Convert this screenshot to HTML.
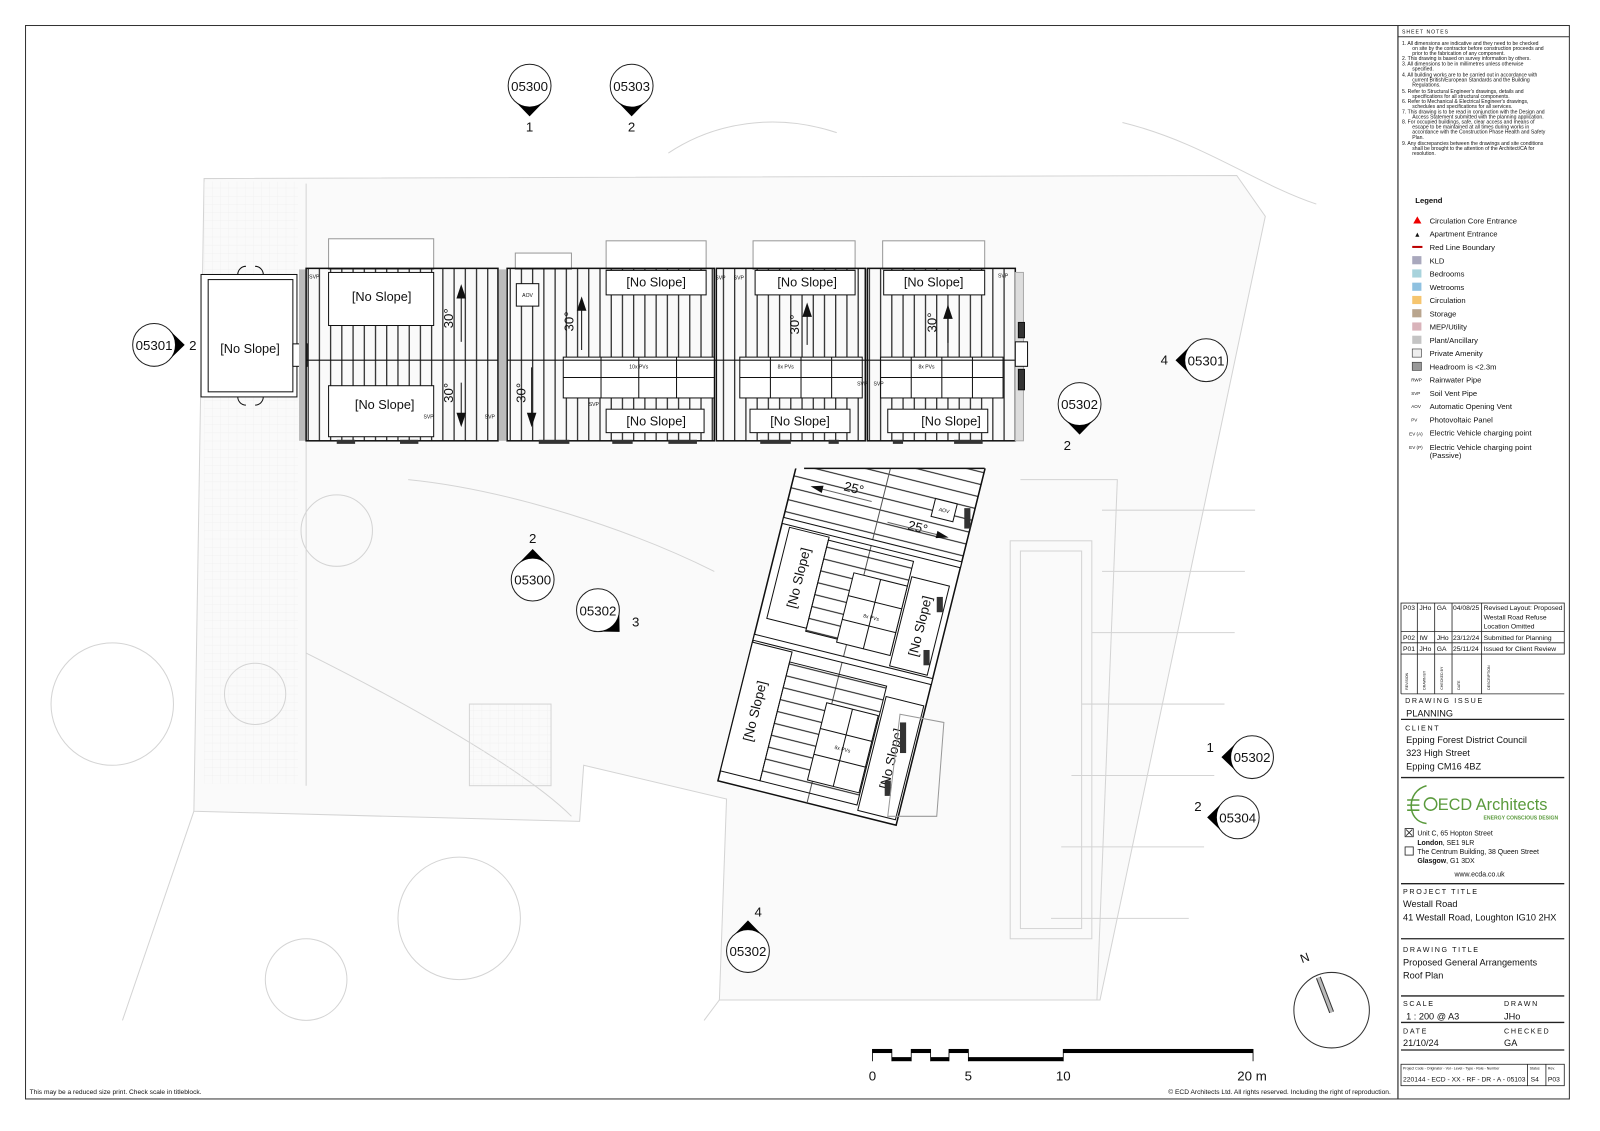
<!DOCTYPE html>
<html><head><meta charset="utf-8"><style>
html,body{margin:0;padding:0;background:#fff}
svg{display:block}
text{font-family:"Liberation Sans",sans-serif}
</style></head><body>
<svg width="1600" height="1131" viewBox="0 0 1568 1108.4" xmlns="http://www.w3.org/2000/svg">
<defs>
<pattern id="vs" width="11" height="10" patternUnits="userSpaceOnUse"><line x1="5" y1="0" x2="5" y2="10" stroke="#111" stroke-width="1.1"/></pattern>
<pattern id="hs" width="10" height="12" patternUnits="userSpaceOnUse"><line x1="0" y1="6" x2="10" y2="6" stroke="#111" stroke-width="1"/></pattern>
<pattern id="grid" width="8" height="8" patternUnits="userSpaceOnUse"><path d="M0 0H8M0 0V8" stroke="#eee" stroke-width="0.6"/></pattern>
<clipPath id="cb"><polygon points="760,459 975,459 975,840 680,840"/></clipPath>
<g id="mk"><circle r="21" fill="#fff" stroke="#222" stroke-width="1"/><path d="M-15,14.5 L0,30 L15,14.5 A21,21 0 0 1 -15,14.5 Z" fill="#000"/></g>
</defs>
<rect width="1568" height="1108.4" fill="#fff"/>
<rect x="25" y="25" width="1513" height="1052" fill="none" stroke="#333" stroke-width="1"/>
<line x1="1370" y1="25" x2="1370" y2="1077" stroke="#333" stroke-width="1.2"/>

<g fill="none" stroke="#d4d4d4" stroke-width="1">
<polygon points="200,175 1212,172 1240,212 1078,980 705,980 712,783 572,750 568,805 190,795" fill="#fafafa"/>
<rect x="200" y="178" width="92" height="590" fill="url(#grid)" stroke="none"/>
<path d="M655,150 C700,120 760,110 820,130 M1100,120 C1180,140 1230,180 1290,200"/>
<circle cx="110" cy="690" r="60"/><circle cx="330" cy="520" r="35"/><circle cx="250" cy="680" r="30"/>
<circle cx="450" cy="900" r="60"/><circle cx="300" cy="960" r="40"/>
<rect x="990" y="530" width="80" height="390"/><rect x="1000" y="540" width="60" height="370"/>
<path d="M1080,500 L1230,500 M1080,560 L1220,560 M1070,620 L1210,620 M1060,690 L1200,690 M1050,760 L1190,760 M1040,830 L1180,830 M1030,900 L1165,900"/>
<path d="M1000,470 L1095,470 L1075,980"/>
<path d="M300,180 L300,770 M190,795 L120,1000 M705,980 L690,1000"/>
<path d="M400,470 C500,480 620,520 700,560 M300,640 C420,700 520,760 560,800"/>
<rect x="460" y="690" width="80" height="80" fill="url(#grid)"/>
</g>

<g stroke="#111" stroke-width="1">
<rect x="322" y="234" width="103" height="30" fill="#fff" stroke="#999"/>
<rect x="594" y="236" width="98" height="28" fill="#fff" stroke="#999"/>
<rect x="738" y="236" width="100" height="28" fill="#fff" stroke="#999"/>
<rect x="865" y="236" width="100" height="28" fill="#fff" stroke="#999"/>
<rect x="505" y="248" width="55" height="16" fill="#fff" stroke="#999"/>
<rect x="197" y="269" width="94" height="120" fill="#fff"/>
<rect x="204" y="274" width="83" height="110" fill="#fff"/>
<path d="M233,269 a8,8 0 0 1 8,-8 M258,269 a8,8 0 0 0 -8,-8 M233,389 a8,8 0 0 0 8,8 M258,389 a8,8 0 0 1 -8,8" fill="none"/>
<rect x="287" y="337" width="14" height="22" fill="#fff"/>
<rect x="293" y="264" width="7" height="168" fill="#bbb" stroke="none"/>
<rect x="300" y="263" width="188" height="169" fill="url(#vs)" stroke-width="1.5"/>
<rect x="322" y="267" width="103" height="52" fill="#fff"/>
<rect x="322" y="378" width="103" height="50" fill="#fff"/>
<line x1="300" y1="353" x2="488" y2="353"/>
<rect x="497" y="263" width="203" height="169" fill="url(#vs)" stroke-width="1.5"/>
<rect x="489" y="264" width="7" height="168" fill="#bbb" stroke="none"/>
<rect x="506" y="278" width="22" height="22" fill="#fff"/>
<rect x="594" y="265" width="98" height="24" fill="#fff"/>
<rect x="594" y="401" width="96" height="23" fill="#fff"/>
<rect x="552" y="350" width="148" height="40" fill="#fff"/>
<path d="M589,350V390M626,350V390M663,350V390M552,370H700"/>
<rect x="702" y="263" width="146" height="169" fill="url(#vs)" stroke-width="1.5"/>
<rect x="740" y="265" width="98" height="24" fill="#fff"/>
<rect x="735" y="401" width="98" height="23" fill="#fff"/>
<rect x="725" y="350" width="120" height="40" fill="#fff"/>
<path d="M755,350V390M785,350V390M815,350V390M725,370H845"/>
<rect x="850" y="263" width="145" height="169" fill="url(#vs)" stroke-width="1.5"/>
<rect x="866" y="265" width="99" height="24" fill="#fff"/>
<rect x="870" y="401" width="98" height="23" fill="#fff"/>
<rect x="863" y="350" width="120" height="40" fill="#fff"/>
<path d="M893,350V390M923,350V390M953,350V390M863,370H983"/>
<line x1="497" y1="353" x2="995" y2="353"/>
<rect x="995" y="267" width="8" height="165" fill="#ddd" stroke="#aaa"/>
<rect x="995" y="335" width="12" height="24" fill="#fff"/>
<rect x="998" y="316" width="6" height="15" fill="#333"/><rect x="998" y="362" width="6" height="20" fill="#333"/>
<g fill="#333" stroke="none">
<rect x="330" y="431" width="18" height="4"/><rect x="392" y="431" width="18" height="4"/><rect x="528" y="431" width="30" height="4"/>
<rect x="600" y="431" width="20" height="4"/><rect x="655" y="431" width="28" height="4"/><rect x="745" y="431" width="30" height="4"/>
<rect x="812" y="431" width="10" height="4"/><rect x="875" y="431" width="10" height="4"/><rect x="935" y="431" width="28" height="4"/>
</g>
</g>
<g stroke="#111" stroke-width="1" fill="#111">
<line x1="452" y1="290" x2="452" y2="335"/><path d="M448,292 L452,280 L456,292Z"/>
<line x1="452" y1="375" x2="452" y2="415"/><path d="M448,405 L452,417 L456,405Z"/>
<line x1="570" y1="300" x2="570" y2="343"/><path d="M566,304 L570,292 L574,304Z"/>
<line x1="521" y1="360" x2="521" y2="415"/><path d="M517,405 L521,417 L525,405Z"/>
<line x1="791" y1="300" x2="791" y2="338"/><path d="M787,310 L791,298 L795,310Z"/>
<line x1="929" y1="300" x2="929" y2="336"/><path d="M925,312 L929,300 L933,312Z"/>
</g>
<g font-size="12.5" fill="#111" text-anchor="middle">
<text x="245" y="346">[No Slope]</text>
<text x="374" y="295">[No Slope]</text>
<text x="377" y="401">[No Slope]</text>
<text x="643" y="281">[No Slope]</text>
<text x="791" y="281">[No Slope]</text>
<text x="915" y="281">[No Slope]</text>
<text x="643" y="417">[No Slope]</text>
<text x="784" y="417">[No Slope]</text>
<text x="932" y="417">[No Slope]</text>
<g font-size="13">
<text transform="translate(444,312) rotate(-90)">30°</text>
<text transform="translate(444,385) rotate(-90)">30°</text>
<text transform="translate(562,315) rotate(-90)">30°</text>
<text transform="translate(515,385) rotate(-90)">30°</text>
<text transform="translate(783,318) rotate(-90)">30°</text>
<text transform="translate(918,316) rotate(-90)">30°</text>
</g>
<g font-size="5">
<text x="517" y="291">AOV</text>
<text x="626" y="361">10x PVs</text>
<text x="770" y="361">8x PVs</text>
<text x="908" y="361">8x PVs</text>
<text x="308" y="273">SVP</text><text x="420" y="410">SVP</text><text x="480" y="410">SVP</text>
<text x="706" y="274">SVP</text><text x="724" y="274">SVP</text><text x="582" y="398">SVP</text>
<text x="845" y="378">SVP</text><text x="861" y="378">SVP</text><text x="983" y="272">SVP</text>
</g>
</g>

<!-- Rotated block -->
<g clip-path="url(#cb)">
<g transform="translate(832,622) rotate(14)" stroke="#111" stroke-width="1">
<rect x="-90" y="-200" width="180" height="370" fill="#fff" stroke-width="1.5"/>
<rect x="-90" y="-200" width="180" height="106" fill="url(#hs)"/>
<line x1="0" y1="-200" x2="0" y2="170" stroke="#555"/>
<rect x="-90" y="-96" width="180" height="6" fill="#fff"/>
<rect x="-82" y="-88" width="40" height="92" fill="#fff"/>
<rect x="46" y="-70" width="38" height="90" fill="#fff"/>
<rect x="-42" y="-85" width="86" height="92" fill="url(#hs)"/>
<rect x="-10" y="-60" width="54" height="70" fill="#fff"/>
<path d="M17,-60V10M-10,-37H44M-10,-13H44"/>
<rect x="-90" y="22" width="180" height="6" fill="#fff"/>
<rect x="-90" y="30" width="40" height="130" fill="#fff"/>
<rect x="50" y="50" width="38" height="115" fill="#fff"/>
<rect x="-50" y="40" width="98" height="120" fill="url(#hs)"/>
<rect x="-5" y="70" width="52" height="78" fill="#fff"/>
<path d="M21,70V148M-5,96H47M-5,122H47"/>
<rect x="50" y="-150" width="22" height="18" fill="#fff"/>
<g fill="#111" font-size="13" stroke="none" text-anchor="middle">
<text transform="translate(-57,-42) rotate(-90)">[No Slope]</text>
<text transform="translate(70,-25) rotate(-90)">[No Slope]</text>
<text transform="translate(-67,95) rotate(-90)">[No Slope]</text>
<text transform="translate(74,108) rotate(-90)">[No Slope]</text>
<text x="-30" y="-136">25°</text><text x="40" y="-114">25°</text>
<text x="61" y="-139" font-size="5">AOV</text>
<text x="17" y="-20" font-size="5">8x PVs</text><text x="21" y="112" font-size="5">8x PVs</text>
</g>
<path d="M-60,-132 L-10,-132 M10,-116 L60,-116" stroke="#666"/>
<path d="M-60,-135 L-70,-132 L-60,-129Z M60,-119 L70,-116 L60,-113Z" fill="#111"/>
</g>
</g>
<line x1="788" y1="459" x2="965" y2="459" stroke="#111" stroke-width="1.5"/>
<g fill="#333"><rect x="945" y="498" width="6" height="20"/><rect x="918" y="585" width="6" height="15"/><rect x="905" y="637" width="6" height="15"/><rect x="882" y="708" width="6" height="30"/><rect x="867" y="765" width="6" height="15"/></g>
<polygon points="882,700 925,708 918,800 870,800" fill="none" stroke="#999"/>

<use href="#mk" transform="translate(519,84)"/>
<use href="#mk" transform="translate(619,84)"/>
<use href="#mk" transform="translate(151,338) rotate(-90)"/>
<use href="#mk" transform="translate(1182,353) rotate(90)"/>
<use href="#mk" transform="translate(1058,396)"/>
<use href="#mk" transform="translate(522,568) rotate(180)"/>
<use href="#mk" transform="translate(586,598) rotate(-45)"/>
<use href="#mk" transform="translate(1227,742) rotate(90)"/>
<use href="#mk" transform="translate(1213,801) rotate(90)"/>
<use href="#mk" transform="translate(733,932) rotate(180)"/>
<g font-size="13" fill="#111" text-anchor="middle">
<text x="519" y="89">05300</text><text x="619" y="89">05303</text><text x="151" y="343">05301</text>
<text x="1182" y="358">05301</text><text x="1058" y="401">05302</text><text x="522" y="573">05300</text>
<text x="586" y="603">05302</text><text x="1227" y="747">05302</text><text x="1213" y="806">05304</text>
<text x="733" y="937">05302</text>
<text x="519" y="129">1</text><text x="619" y="129">2</text><text x="189" y="343">2</text>
<text x="1141" y="357">4</text><text x="1046" y="441">2</text><text x="522" y="532">2</text>
<text x="623" y="614">3</text><text x="1186" y="737">1</text><text x="1174" y="795">2</text>
<text x="743" y="898">4</text>
</g>

<g stroke="#000" fill="#000">
<rect x="855" y="1028" width="19" height="4" stroke="none"/><rect x="874" y="1036" width="19" height="4" stroke="none"/>
<rect x="893" y="1028" width="19" height="4" stroke="none"/><rect x="912" y="1036" width="18" height="4" stroke="none"/>
<rect x="930" y="1028" width="19" height="4" stroke="none"/><rect x="949" y="1036" width="93" height="4" stroke="none"/>
<rect x="1042" y="1028" width="186" height="4" stroke="none"/>
<path d="M855,1028V1040M1228,1028V1040M874,1028V1040M893,1028V1040M912,1028V1040M930,1028V1040M949,1028V1040M1042,1028V1040" stroke-width="0.8"/>
</g>
<g font-size="13" fill="#111" text-anchor="middle">
<text x="855" y="1059">0</text><text x="949" y="1059">5</text><text x="1042" y="1059">10</text><text x="1227" y="1059">20 m</text>
</g>
<text x="29" y="1072" font-size="6.5" fill="#111">This may be a reduced size print. Check scale in titleblock.</text>
<text x="1363" y="1072" font-size="6.5" fill="#111" text-anchor="end">© ECD Architects Ltd.  All rights reserved.  Including the right of reproduction.</text>

<circle cx="1305" cy="990" r="37" fill="#fff" stroke="#333"/>
<line x1="1292" y1="958" x2="1305" y2="992" stroke="#333" stroke-width="5"/>
<line x1="1292" y1="958" x2="1305" y2="992" stroke="#bbb" stroke-width="3"/>
<text x="1276" y="944" font-size="12" fill="#111" transform="rotate(-20 1276 944)">N</text>

<g fill="#111">
<text x="1374" y="33" font-size="5" letter-spacing="1">SHEET NOTES</text>
<line x1="1370" y1="36" x2="1538" y2="36" stroke="#333"/>
<g font-size="5">
<text x="1374" y="44">1.   All dimensions are indicative and they need to be checked</text>
<text x="1384" y="49">on site by the contractor before construction proceeds and</text>
<text x="1384" y="54">prior to the fabrication of any component.</text>
<text x="1374" y="59">2.   This drawing is based on survey information by others.</text>
<text x="1374" y="64">3.   All dimensions to be in millimetres unless otherwise</text>
<text x="1384" y="69">specified.</text>
<text x="1374" y="75">4.   All building works are to be carried out in accordance with</text>
<text x="1384" y="80">current British/European Standards and the Building</text>
<text x="1384" y="85">Regulations.</text>
<text x="1374" y="91">5.   Refer to Structural Engineer's drawings, details and</text>
<text x="1384" y="96">specifications for all structural components.</text>
<text x="1374" y="101">6.   Refer to Mechanical &amp; Electrical Engineer's drawings,</text>
<text x="1384" y="106">schedules and specifications for all services.</text>
<text x="1374" y="111">7.   This drawing is to be read in conjunction with the Design and</text>
<text x="1384" y="116">Access Statement submitted with the planning application.</text>
<text x="1374" y="121">8.   For occupied buildings, safe, clear access and means of</text>
<text x="1384" y="126">escape to be maintained at all times during works in</text>
<text x="1384" y="131">accordance with the Construction Phase Health and Safety</text>
<text x="1384" y="136">Plan.</text>
<text x="1374" y="142">9.   Any discrepancies between the drawings and site conditions</text>
<text x="1384" y="147">shall be brought to the attention of the Architect/CA for</text>
<text x="1384" y="152">resolution.</text>
</g>
<text x="1387" y="199" font-size="7.5" font-weight="bold">Legend</text>
<g font-size="7.5">
<path d="M1385,219 L1389,212 L1393,219Z" fill="#e00"/><text x="1401" y="219">Circulation Core Entrance</text>
<path d="M1387,232 L1389,228 L1391,232Z"/><text x="1401" y="232">Apartment Entrance</text>
<rect x="1384" y="241" width="10" height="2" fill="#b00"/><text x="1401" y="245">Red Line Boundary</text>
<rect x="1384" y="251" width="9" height="8" fill="#a9a8bd"/><text x="1401" y="258">KLD</text>
<rect x="1384" y="264" width="9" height="8" fill="#a8d3dc"/><text x="1401" y="271">Bedrooms</text>
<rect x="1384" y="277" width="9" height="8" fill="#8fc1e0"/><text x="1401" y="284">Wetrooms</text>
<rect x="1384" y="290" width="9" height="8" fill="#f6c56e"/><text x="1401" y="297">Circulation</text>
<rect x="1384" y="303" width="9" height="8" fill="#b9a58e"/><text x="1401" y="310">Storage</text>
<rect x="1384" y="316" width="9" height="8" fill="#d9b3ba"/><text x="1401" y="323">MEP/Utility</text>
<rect x="1384" y="329" width="9" height="8" fill="#c4c4c4"/><text x="1401" y="336">Plant/Ancillary</text>
<rect x="1384" y="342" width="9" height="8" fill="#eee" stroke="#333" stroke-width="0.6"/><text x="1401" y="349">Private Amenity</text>
<rect x="1384" y="355" width="9" height="8" fill="#999" stroke="#333" stroke-width="0.6"/><text x="1401" y="362">Headroom is &lt;2.3m</text>
<text x="1401" y="375">Rainwater Pipe</text><text x="1401" y="388">Soil Vent Pipe</text>
<text x="1401" y="401">Automatic Opening Vent</text><text x="1401" y="414">Photovoltaic Panel</text>
<text x="1401" y="427">Electric Vehicle charging point</text>
<text x="1401" y="441">Electric Vehicle charging point</text><text x="1401" y="449">(Passive)</text>
</g>
<g font-size="4.5"><text x="1383" y="374">RWP</text><text x="1383" y="387">SVP</text><text x="1383" y="400">AOV</text><text x="1383" y="413">PV</text><text x="1381" y="427">EV (A)</text><text x="1381" y="440">EV (P)</text></g>

<g stroke="#222" fill="none" stroke-width="0.8">
<rect x="1373" y="591" width="160" height="50"/>
<path d="M1373,619H1533M1373,630H1533M1389,591V680M1406,591V680M1423,591V680M1452,591V680M1373,641V680"/>
<line x1="1373" y1="680" x2="1533" y2="680"/>
<path d="M1373,705H1533M1373,762H1533M1373,866H1533M1373,920H1533M1373,976H1533M1373,1002H1533M1373,1029H1533" stroke-width="1.3"/>
<rect x="1373" y="1043" width="160" height="21"/>
<path d="M1497,1043V1064M1515,1043V1064"/>
<rect x="1377" y="812" width="8" height="8"/><rect x="1377" y="830" width="8" height="8"/>
<path d="M1378,813L1384,819M1384,813L1378,819"/>
</g>
<g font-size="6.6">
<text x="1375" y="598">P03</text><text x="1391" y="598">JHo</text><text x="1408" y="598">GA</text><text x="1424" y="598">04/08/25</text>
<text x="1454" y="598">Revised Layout: Proposed</text><text x="1454" y="607">Westall Road Refuse</text><text x="1454" y="616">Location Omitted</text>
<text x="1375" y="627">P02</text><text x="1391" y="627">IW</text><text x="1408" y="627">JHo</text><text x="1424" y="627">23/12/24</text><text x="1454" y="627">Submitted for Planning</text>
<text x="1375" y="638">P01</text><text x="1391" y="638">JHo</text><text x="1408" y="638">GA</text><text x="1424" y="638">25/11/24</text><text x="1454" y="638">Issued for Client Review</text>
</g>
<g font-size="3.5"><text transform="translate(1380,676) rotate(-90)">REVISION</text><text transform="translate(1397,676) rotate(-90)">DRAWN BY</text><text transform="translate(1414,676) rotate(-90)">CHECKED BY</text><text transform="translate(1431,676) rotate(-90)">DATE</text><text transform="translate(1460,676) rotate(-90)">DESCRIPTION</text></g>
<g font-size="7" letter-spacing="1.6"><text x="1377" y="689">DRAWING ISSUE</text><text x="1377" y="716">CLIENT</text><text x="1375" y="876">PROJECT TITLE</text><text x="1375" y="933">DRAWING TITLE</text><text x="1375" y="986">SCALE</text><text x="1474" y="986">DRAWN</text><text x="1375" y="1013">DATE</text><text x="1474" y="1013">CHECKED</text></g>
<g font-size="9">
<text x="1378" y="702">PLANNING</text>
<text x="1378" y="728">Epping Forest District Council</text><text x="1378" y="741">323 High Street</text><text x="1378" y="754">Epping CM16 4BZ</text>
<text x="1375" y="889">Westall Road</text><text x="1375" y="902">41 Westall Road, Loughton IG10 2HX</text>
<text x="1375" y="946">Proposed General Arrangements</text><text x="1375" y="959">Roof Plan</text>
<text x="1378" y="999">1 : 200 @ A3</text><text x="1474" y="999">JHo</text>
<text x="1375" y="1025">21/10/24</text><text x="1474" y="1025">GA</text>
</g>
<g fill="none" stroke="#5a9a3c" stroke-width="1.5"><path d="M1398,770 C1378,775 1378,805 1398,807"/><circle cx="1402" cy="788" r="6"/><path d="M1379,784h12M1379,789h12M1379,794h12"/></g>
<text x="1409" y="794" font-size="16" fill="#5a9a3c">ECD Architects</text>
<text x="1527" y="803" font-size="5" fill="#5a9a3c" text-anchor="end" font-weight="bold">ENERGY CONSCIOUS DESIGN</text>
<g font-size="6.8">
<text x="1389" y="819">Unit C, 65 Hopton Street</text><text x="1389" y="828"><tspan font-weight="bold">London</tspan>, SE1 9LR</text>
<text x="1389" y="837">The Centrum Building, 38 Queen Street</text><text x="1389" y="846"><tspan font-weight="bold">Glasgow</tspan>, G1 3DX</text>
<text x="1450" y="859" text-anchor="middle">www.ecda.co.uk</text>
</g>
<g font-size="3.5"><text x="1375" y="1048">Project Code - Originator - Vol - Level - Type - Role - Number</text><text x="1499" y="1048">Status</text><text x="1517" y="1048">Rev.</text></g>
<g font-size="6.6"><text x="1375" y="1060">220144 - ECD - XX - RF - DR - A - 05103</text><text x="1500" y="1060">S4</text><text x="1517" y="1060">P03</text></g>
</g>
</svg>
</body></html>
